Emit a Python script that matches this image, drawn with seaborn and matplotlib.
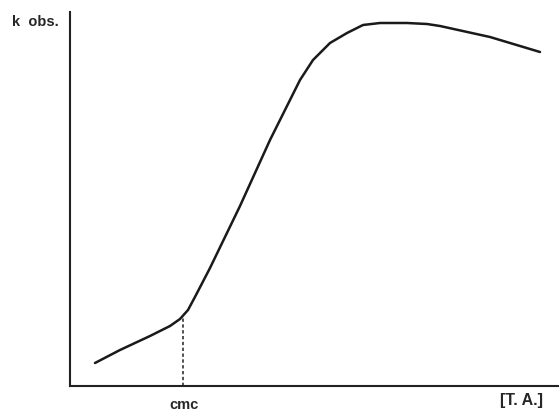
import matplotlib
matplotlib.use("Agg")
import matplotlib.pyplot as plt
import seaborn as sns
import pandas as pd

# Schematic curve (arbitrary units)
conc = [25, 50, 80, 100, 110, 118, 126, 140, 170, 200, 220, 230, 243, 260, 277, 293, 310, 337, 357, 370, 420, 470]
kobs = [23, 36, 50, 60, 67, 76, 91, 118, 180, 246, 286, 306, 326, 343, 353, 361, 363, 363, 362, 360, 349, 334]
cmc_x = 113
cmc_y = 70

sns.set_style("white")
plt.rcParams['font.family'] = ['Liberation Sans', 'DejaVu Sans']

fig = plt.figure(figsize=(5.59, 4.12), dpi=100)
ax = fig.add_axes([70/559, 26/412, 489/559, 374/412])
df = pd.DataFrame({"conc": conc, "kobs": kobs})
sns.lineplot(data=df, x="conc", y="kobs", ax=ax, color="#1a1a1a", linewidth=1.8, sort=False)
ax.plot([cmc_x, cmc_x], [0, cmc_y], linestyle=(0, (2, 1.5)), color="#333333", linewidth=1.2)

ax.set_xlim(0, 489)
ax.set_ylim(0, 374)
ax.set_xticks([])
ax.set_yticks([])
ax.set_xlabel("")
ax.set_ylabel("")
for s in ["top", "right"]:
    ax.spines[s].set_visible(False)
for s in ["left", "bottom"]:
    ax.spines[s].set_color("#222222")
    ax.spines[s].set_linewidth(1.5)

fig.text(12/559, 1 - 22/412, "k  obs.", fontsize=10.5, fontweight="bold", ha="left", va="center")
fig.text(184/559, 1 - 405/412, "cmc", fontsize=10.5, fontweight="bold", ha="center", va="center")
fig.text(522/559, 1 - 400/412, "[T. A.]", fontsize=11.5, fontweight="bold", ha="center", va="center")

fig.savefig("out.png", dpi=100)
